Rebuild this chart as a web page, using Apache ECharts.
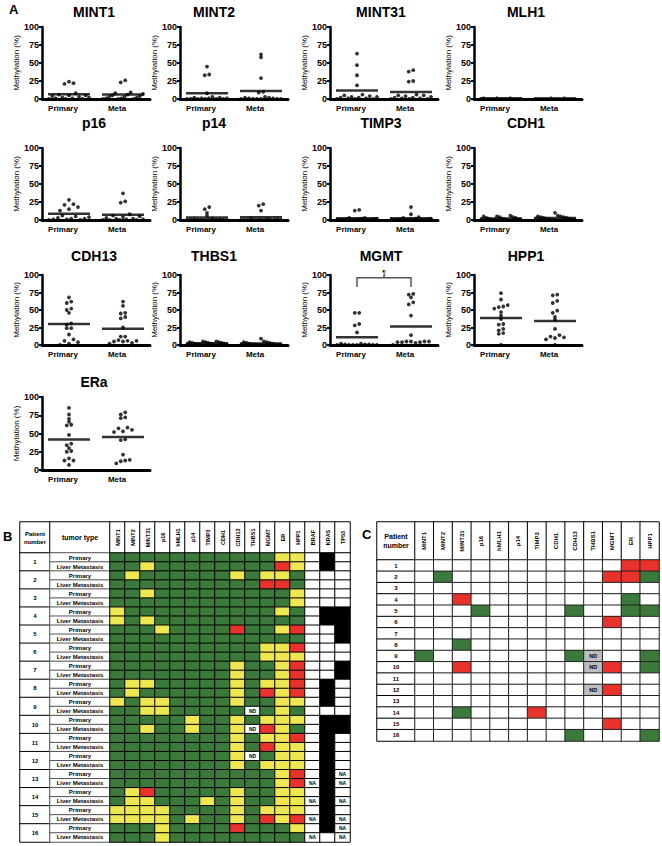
<!DOCTYPE html>
<html>
<head>
<meta charset="utf-8">
<script src="https://cdn.jsdelivr.net/npm/echarts@6/dist/echarts.min.js"></script>
<style>
  html, body { margin: 0; padding: 0; background: #fff; }
  #chart { width: 662px; height: 846px; }
</style>
</head>
<body>
<div id="chart"></div>
<script>
// ---- panel A: methylation (%) per sample ----
const groupLabels = ["Primary", "Meta"];
const mint1Primary = [24, 22, 21, 8, 6, 5, 5, 4, 3, 2, 2, 1, 1, 0, 0, 0];
const mint1Meta = [26, 23, 9, 8, 7, 6, 5, 4, 3, 3, 2, 1, 1, 0, 0, 0];
const mint2Primary = [45, 34, 33, 8, 3, 2, 2, 1, 1, 1, 0, 0, 0, 0, 0, 0];
const mint2Meta = [62, 58, 29, 10, 9, 3, 2, 2, 1, 1, 0, 0, 0, 0, 0, 0];
const mint31Primary = [63, 47, 33, 19, 6, 5, 4, 3, 3, 2, 2, 1, 1, 0, 0, 0];
const mint31Meta = [40, 38, 25, 24, 6, 5, 5, 4, 3, 2, 2, 1, 1, 0, 0, 0];
const mlh1Primary = [1, 1, 1, 0, 0, 0, 0, 0, 0, 0, 0, 0, 0, 0, 0, 0];
const mlh1Meta = [1, 1, 0, 0, 0, 0, 0, 0, 0, 0, 0, 0, 0, 0, 0, 0];
const p16Primary = [28, 22, 21, 18, 15, 13, 6, 5, 4, 3, 2, 2, 1, 1, 0, 0];
const p16Meta = [37, 26, 24, 8, 6, 5, 4, 3, 2, 2, 1, 1, 0, 0, 0, 0];
const p14Primary = [18, 15, 10, 6, 2, 1, 1, 0, 0, 0, 0, 0, 0, 0, 0, 0];
const p14Meta = [22, 20, 13, 2, 2, 1, 1, 0, 0, 0, 0, 0, 0, 0, 0, 0];
const timp3Primary = [14, 13, 3, 3, 2, 2, 1, 1, 1, 0, 0, 0, 0, 0, 0, 0];
const timp3Meta = [18, 8, 4, 3, 2, 2, 1, 1, 0, 0, 0, 0, 0, 0, 0, 0];
const cdh1Primary = [6, 5, 5, 4, 4, 3, 3, 2, 2, 1, 1, 0, 0, 0, 0, 0];
const cdh1Meta = [10, 6, 5, 5, 4, 4, 3, 3, 2, 2, 1, 1, 0, 0, 0, 0];
const cdh13Primary = [68, 62, 60, 52, 50, 46, 31, 29, 24, 24, 15, 8, 6, 4, 2, 0];
const cdh13Meta = [62, 56, 46, 45, 40, 38, 25, 12, 12, 7, 6, 6, 5, 5, 3, 2];
const thbs1Primary = [5, 5, 4, 4, 4, 3, 3, 3, 2, 2, 2, 1, 1, 0, 0, 0];
const thbs1Meta = [9, 5, 4, 4, 3, 3, 2, 2, 1, 1, 1, 0, 0, 0, 0, 0];
const mgmtPrimary = [46, 46, 30, 28, 18, 2, 2, 1, 1, 1, 0, 0, 0, 0, 0, 0];
const mgmtMeta = [73, 72, 68, 61, 58, 42, 14, 5, 5, 5, 5, 4, 4, 4, 3, 0];
const hpp1Primary = [74, 65, 57, 55, 54, 52, 47, 42, 37, 30, 29, 23, 21, 17, 16, 0];
const hpp1Meta = [72, 71, 63, 60, 49, 46, 40, 36, 23, 14, 12, 11, 10, 8, 0];
const eraPrimary = [85, 76, 70, 66, 62, 61, 48, 36, 34, 30, 26, 25, 16, 13, 13, 7];
const eraMeta = [79, 76, 72, 71, 58, 57, 55, 53, 52, 42, 41, 21, 14, 13, 12, 9];

const plotTitles = ["MINT1", "MINT2", "MINT31", "MLH1", "p16", "p14", "TIMP3", "CDH1",
  "CDH13", "THBS1", "MGMT", "HPP1", "ERa"];
const plotData = [
  [mint1Primary, mint1Meta], [mint2Primary, mint2Meta], [mint31Primary, mint31Meta], [mlh1Primary, mlh1Meta],
  [p16Primary, p16Meta], [p14Primary, p14Meta], [timp3Primary, timp3Meta], [cdh1Primary, cdh1Meta],
  [cdh13Primary, cdh13Meta], [thbs1Primary, thbs1Meta], [mgmtPrimary, mgmtMeta], [hpp1Primary, hpp1Meta],
  [eraPrimary, eraMeta]
];

// ---- panel B: methylation status (G unmeth, Y meth, R high, N not done) and mutations (K mutant, A NA) ----
const bGenes = ["MINT1", "MINT2", "MINT31", "p16", "hMLH1", "p14", "TIMP3", "CDH1", "CDH13", "THBS1",
  "MGMT", "ER", "HPP1", "BRAF", "KRAS", "TP53"];
const tumorTypes = ["Primary", "Liver Metastasis"];
const patientNumbers = ["1", "2", "3", "4", "5", "6", "7", "8", "9", "10", "11", "12", "13", "14", "15", "16"];
const bMethylation = [
  "GGGGGGGGGGGYY", "GGYGGGGGGGGRY",
  "GYGGGGGGYGYYG", "GGGGGGGGGGRRG",
  "GGYGGGGGGGGGY", "GGGGGGGGGGGGY",
  "YGGGGGGGGGGYG", "YGYGGGGGGGGGG",
  "GGGYGGGGRGGYR", "GGGGGGGGGGGGG",
  "GGGGGGGGGGYYR", "GGGGGGGGGGYYY",
  "GGGGGGGGYGGYR", "GGGGGGGGYGGYR",
  "GYYGGGGGYGYYR", "GYGGGGGGYGRYR",
  "YGYYGGGGYGGYY", "GGYYGGGGGNGYG",
  "GGGGGYGGYGYYY", "GGYGGYGGYNRYG",
  "GGGGGGGGYGYYR", "GGGGGGGGYGRYY",
  "GGGGGGGGYNGYY", "GGGGGGGGYGYYY",
  "GGGGGGGGGGGYR", "GGGGGGGGGGGYR",
  "GYRGGGGGYGGYY", "GYYGGGYGYGGYY",
  "YYYYGGGGYGYYY", "YYYYGYGGYGRYR",
  "GGGYGGGGRGGGY", "GGGYGGGGGGGGG"
];
const bMutation = [
  "WKW", "WKW", "WWW", "WWW", "WWW", "WWW", "WKK", "WKK",
  "WWK", "WWK", "WWW", "WWW", "WWK", "WWK", "WKW", "WKW",
  "WKW", "WWW", "WKK", "WKK", "WKW", "WKW", "WKW", "WKW",
  "WKA", "AKA", "WKW", "AKA", "WKW", "AKA", "WKA", "AWA"
];

// ---- panel C: change primary -> metastasis (R gain, G loss, D not done) ----
const cGenes = bGenes.slice(0, 13);
const cChanges = [
  "WWWWWWWWWWWRR", "WGWWWWWWWWRRG", "WWWWWWWWWWWWW", "WWRWWWWWWWWGW",
  "WWWGWWWWGWWGG", "WWWWWWWWWWRWW", "WWWWWWWWWWWWW", "WWGWWWWWWWWWW",
  "GWWWWWWWGDWWG", "WWRWWWWWWDRWG", "WWWWWWWWWWWWW", "WWWWWWWWWDRWW",
  "WWWWWWWWWWWWW", "WWGWWWRWWWWWW", "WWWWWWWWWWRWW", "WWWWWWWWGWWWG"
];

const FONT = "Liberation Sans, Arial, sans-serif";
const codeIndex = { W: 0, N: 0, A: 0, G: 1, Y: 2, R: 3, K: 4, D: 5 };
const codeText = { N: "ND", A: "NA", D: "ND" };

const mean = (a) => a.reduce((s, v) => s + v, 0) / a.length;
const gcd = (a, b) => (b ? gcd(b, a % b) : a);

// put dots with nearly equal values side by side, like a column scatter
function swarm(vals) {
  const order = vals.map((v, i) => i).sort((a, b) => vals[a] - vals[b]);
  const offs = new Array(vals.length).fill(0);
  let start = 0;
  for (let k = 1; k <= order.length; k++) {
    if (k === order.length || vals[order[k]] - vals[order[k - 1]] > 3) {
      const n = k - start;
      const step = n > 1 ? Math.min(4.5, 40 / (n - 1)) : 0;
      const p = [5, 7, 3, 11, 13].find((q) => gcd(q, n) === 1) || 1;
      for (let j = start; j < k; j++) {
        const slot = ((j - start) * p) % n;
        offs[order[j]] = (slot - (n - 1) / 2) * step;
      }
      start = k;
    }
  }
  return offs;
}

const rowTop = [27, 148, 275, 397];
const rowH = [72, 72, 70, 73];
const colLeft = [42, 180, 330, 474];
const plotW = 108;
const titleX = [94, 214, 381, 526];
const titleY = [13, 124, 257, 383];

const grids = [], xAxes = [], yAxes = [], series = [], titles = [];

plotData.forEach((pair, i) => {
  const r = Math.floor(i / 4), c = i % 4;
  grids.push({ left: colLeft[c], top: rowTop[r], width: plotW, height: rowH[r] });
  xAxes.push({
    gridIndex: i, type: "category", data: groupLabels,
    axisLine: { lineStyle: { color: "#000", width: 3 } },
    axisTick: { alignWithLabel: true, length: 3, lineStyle: { width: 2, color: "#000" } },
    axisLabel: { color: "#000", fontSize: 8, fontWeight: "bold", fontFamily: FONT, margin: 5, padding: [0, 12, 0, 0] }
  });
  yAxes.push({
    gridIndex: i, type: "value", min: 0, max: 100, interval: 25,
    name: "Methylation (%)", nameLocation: "middle", nameGap: 21,
    nameTextStyle: { fontSize: 8, fontFamily: FONT, color: "#000" },
    axisLine: { show: true, lineStyle: { color: "#000", width: 2.5 } },
    axisTick: { show: true, length: 3, lineStyle: { width: 2, color: "#000" } },
    axisLabel: { color: "#000", fontSize: 9, fontWeight: "bold", fontFamily: FONT, margin: 3 },
    splitLine: { show: false }
  });
  pair.forEach((vals, g) => {
    const offs = swarm(vals);
    series.push({
      type: "scatter", xAxisIndex: i, yAxisIndex: i, symbol: "circle", symbolSize: 3.8,
      itemStyle: { color: "#000" }, silent: true, z: 3,
      data: vals.map((v, k) => ({ value: [g, v], symbolOffset: [offs[k], 0] }))
    });
  });
  series.push({
    type: "scatter", xAxisIndex: i, yAxisIndex: i, symbol: "rect", symbolSize: [42, 2.5],
    itemStyle: { color: "#000" }, silent: true, z: 4,
    data: pair.map((vals, g) => [g, mean(vals)])
  });
  titles.push({
    text: plotTitles[i], left: titleX[c], top: titleY[r] - 8, textAlign: "center", padding: 0,
    textStyle: { fontSize: 14, fontWeight: "bold", fontFamily: FONT, color: "#000" }
  });
});

titles.push(
  { text: "A", left: 9, top: 3, padding: 0, textStyle: { fontSize: 13, fontWeight: "bold", fontFamily: FONT, color: "#000" } },
  { text: "B", left: 3, top: 530, padding: 0, textStyle: { fontSize: 13, fontWeight: "bold", fontFamily: FONT, color: "#000" } },
  { text: "C", left: 362, top: 528, padding: 0, textStyle: { fontSize: 13, fontWeight: "bold", fontFamily: FONT, color: "#000" } }
);

// ---- table helpers (heatmaps on hidden category axes) ----
const heatSeriesIdx = [];
function addTable(box, nCols, nRows, cells, opts) {
  const gi = grids.length;
  const fs = opts.fontSize || 6;
  const labelStyle = {
    show: true, formatter: "{b}", color: "#000", fontSize: fs, fontWeight: "bold", fontFamily: FONT,
    rotate: opts.rotate || 0, lineHeight: fs + 2, textBorderWidth: 0
  };
  grids.push({ left: box[0], top: box[1], width: box[2], height: box[3] });
  xAxes.push({ gridIndex: gi, type: "category", show: false, data: Array.from({ length: nCols }, (_, k) => k) });
  yAxes.push({ gridIndex: gi, type: "category", show: false, inverse: true, data: Array.from({ length: nRows }, (_, k) => k) });
  heatSeriesIdx.push(series.length);
  series.push({
    type: "heatmap", xAxisIndex: gi, yAxisIndex: gi, silent: true,
    itemStyle: { borderColor: opts.border || "#000", borderWidth: opts.borderWidth || 1 },
    label: labelStyle,
    emphasis: { disabled: true },
    data: cells
  });
}

// panel B
addTable([20, 522, 30, 31], 1, 1, [{ value: [0, 0, 0], name: "Patient\nnumber" }], { fontSize: 6 });
addTable([50, 522, 60, 31], 1, 1, [{ value: [0, 0, 0], name: "tumor type" }], { fontSize: 7 });
addTable([110, 522, 240, 31], bGenes.length, 1,
  bGenes.map((g, k) => ({ value: [k, 0, 0], name: g })), { fontSize: 5.5, rotate: 90 });
addTable([20, 553, 30, 289], 1, patientNumbers.length,
  patientNumbers.map((p, k) => ({ value: [0, k, 0], name: p })), { fontSize: 6 });
const typeCells = [];
patientNumbers.forEach((p, k) => tumorTypes.forEach((t, j) => typeCells.push({ value: [0, k * 2 + j, 0], name: t })));
addTable([50, 553, 60, 289], 1, typeCells.length, typeCells, { fontSize: 6, border: "#555" });
const bCells = [];
bMethylation.forEach((row, r) => {
  (row + bMutation[r]).split("").forEach((ch, k) => {
    bCells.push({ value: [k, r, codeIndex[ch]], name: codeText[ch] || "" });
  });
});
addTable([110, 553, 240, 289], bGenes.length, bMethylation.length, bCells, { fontSize: 5 });

// panel C
addTable([377, 522, 38, 38], 1, 1, [{ value: [0, 0, 0], name: "Patient\nnumber" }], { fontSize: 7 });
addTable([415, 522, 244, 38], cGenes.length, 1,
  cGenes.map((g, k) => ({ value: [k, 0, 0], name: g })), { fontSize: 6, rotate: 90 });
addTable([377, 560, 38, 181], 1, patientNumbers.length,
  patientNumbers.map((p, k) => ({ value: [0, k, 0], name: p })), { fontSize: 6 });
const cCells = [];
cChanges.forEach((row, r) => row.split("").forEach((ch, k) => {
  cCells.push({ value: [k, r, codeIndex[ch]], name: codeText[ch] || "" });
}));
addTable([415, 560, 244, 181], cGenes.length, cChanges.length, cCells, { fontSize: 5.5, border: "#222" });

const chart = echarts.init(document.getElementById("chart"), null, { renderer: "svg" });
chart.setOption({
  animation: false,
  backgroundColor: "#fff",
  title: titles,
  grid: grids,
  xAxis: xAxes,
  yAxis: yAxes,
  visualMap: {
    type: "piecewise", show: false, dimension: 2, seriesIndex: heatSeriesIdx,
    pieces: [
      { value: 0, color: "#ffffff" },
      { value: 1, color: "#3b7a3b" },
      { value: 2, color: "#eee74f" },
      { value: 3, color: "#e8322b" },
      { value: 4, color: "#000000" },
      { value: 5, color: "#bdbdbd" }
    ]
  },
  series: series
});

// significance bracket over the MGMT plot, placed through the plot's own scales
const mgmtIdx = plotTitles.indexOf("MGMT");
const pL = chart.convertToPixel({ gridIndex: mgmtIdx }, [0, 96]);
const pR = chart.convertToPixel({ gridIndex: mgmtIdx }, [1, 96]);
const pLow = chart.convertToPixel({ gridIndex: mgmtIdx }, [0, 83]);
const midX = (pL[0] + pR[0]) / 2;
chart.setOption({
  graphic: [
    { type: "polyline", shape: { points: [[pL[0], pLow[1]], [pL[0], pL[1]], [pR[0], pR[1]], [pR[0], pLow[1]]] },
      style: { stroke: "#555", lineWidth: 1.5, fill: null } },
    { type: "line", shape: { x1: midX, y1: pL[1], x2: midX, y2: pL[1] - 3 }, style: { stroke: "#555", lineWidth: 1.5 } },
    { type: "text", x: midX, y: pL[1] - 2, style: { text: "¶", fontSize: 7, fontFamily: FONT, fill: "#000", align: "center", verticalAlign: "bottom" } }
  ]
});
</script>
</body>
</html>
